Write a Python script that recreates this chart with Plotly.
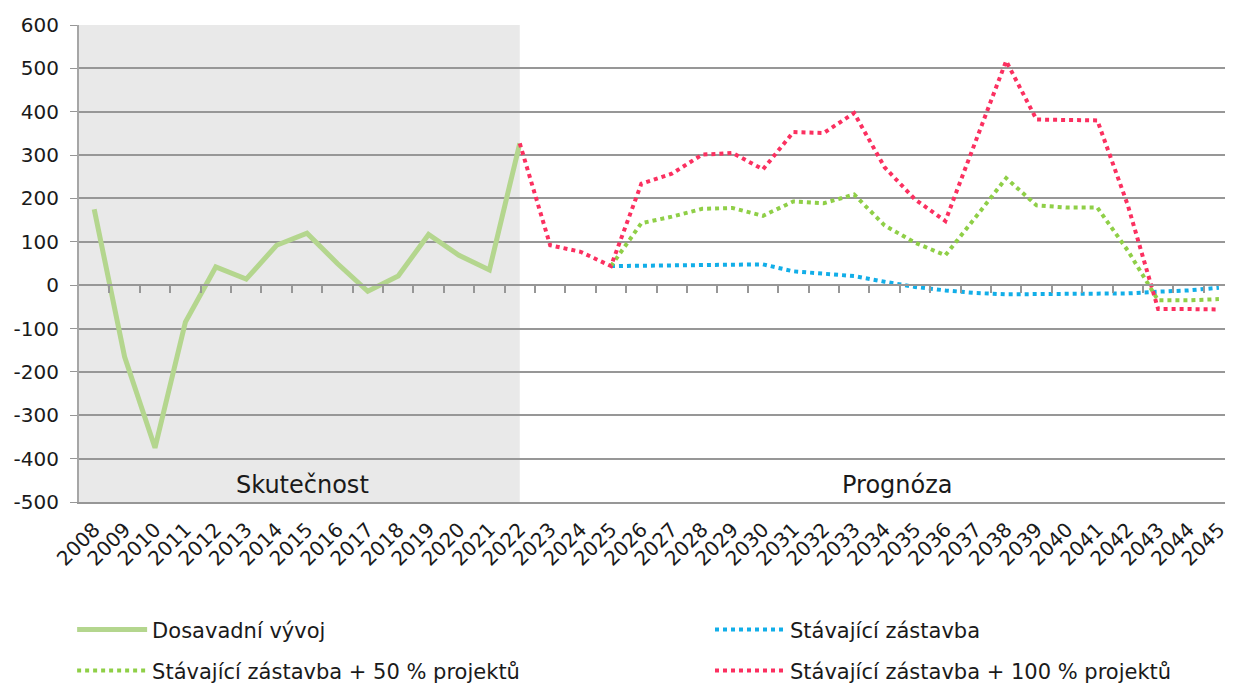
import plotly.graph_objects as go

years = list(range(2008, 2046))

# Dosavadni vyvoj 2008-2022
actual = [175, -165, -375, -85, 42, 14, 92, 120, 50, -14, 21, 117, 69, 35, 327]

# forecasts 2022-2045
fc_years = list(range(2022, 2046))
existing = [None, None, None, 44, 45, 47, 47, 47, 48, 32, 27, 21, 8, -4, -12, -18,
            -21, -21, -21, -21, -19, -15, -12, -6]
plus50 = [None, None, None, 44, 143, 158, 176, 178, 160, 193, 189, 209, 138, 98, 69, 157,
          247, 184, 179, 179, 80, -35, -35, -32]
plus100 = [327, 92, 77, 44, 234, 257, 301, 305, 267, 353, 351, 397, 272, 198, 148, 335,
           517, 382, 380, 380, 185, -55, -55, -56]

y_ticks = list(range(-500, 601, 100))
y_labels = [str(v) for v in y_ticks]  # plain hyphen, like the source

FONT = "DejaVu Sans"
grid = "#979797"

fig = go.Figure()
fig.add_trace(go.Scatter(x=years[:len(actual)], y=actual, mode="lines", name="Dosavadní vývoj",
                         line=dict(color="#b4d68e", width=5), legend="legend"))
fig.add_trace(go.Scatter(x=fc_years, y=existing, mode="lines", name="Stávající zástavba",
                         line=dict(color="#12aee8", width=4, dash="dot"), legend="legend2"))
fig.add_trace(go.Scatter(x=fc_years, y=plus50, mode="lines", name="Stávající zástavba + 50 % projektů",
                         line=dict(color="#8fcf47", width=4, dash="dot"), legend="legend3"))
fig.add_trace(go.Scatter(x=fc_years, y=plus100, mode="lines", name="Stávající zástavba + 100 % projektů",
                         line=dict(color="#fb3060", width=4, dash="dot"), legend="legend4"))

# shaded "actual" period
fig.add_shape(type="rect", xref="x", yref="paper", x0=2007.5, x1=2022, y0=0, y1=1,
              fillcolor="#e9e9e9", line_width=0, layer="below")

fig.add_annotation(x=2014.84, y=-460, text="Skutečnost", showarrow=False,
                   font=dict(size=24, color="#1a1a1a"))
fig.add_annotation(x=2034.44, y=-460, text="Prognóza", showarrow=False,
                   font=dict(size=24, color="#1a1a1a"))

legend_common = dict(xanchor="left", yanchor="middle",
                     bgcolor="rgba(0,0,0,0)", font=dict(family=FONT, size=21, color="#1a1a1a"),
                     itemwidth=70)

# page body has an 8px margin all round; keep the page inside the window
fig.update_layout(
    width=1217, height=677,
    margin=dict(l=71, r=0, t=17, b=183, autoexpand=False),
    plot_bgcolor="white", paper_bgcolor="white",
    font=dict(family=FONT, size=20, color="#1a1a1a"),
    showlegend=True,
    legend=dict(x=-0.006, y=-0.268, **legend_common),
    legend2=dict(x=0.5506, y=-0.268, **legend_common),
    legend3=dict(x=-0.006, y=-0.354, **legend_common),
    legend4=dict(x=0.5506, y=-0.354, **legend_common),
    xaxis=dict(range=[2007.5, 2045.2], tickmode="array", tickvals=years,
               ticktext=[str(y) for y in years], tickangle=-45, showgrid=False,
               showline=True, linecolor=grid, linewidth=2, ticks="", zeroline=False,
               tickfont=dict(size=20), automargin=False, ticklabeloverflow="allow",
               ticklabelstandoff=6),
    xaxis2=dict(range=[2007.5, 2045.2], overlaying="x", anchor="free", position=500 / 1100,
                tickmode="array", tickvals=[y + 0.5 for y in years], ticks="outside",
                ticklen=7, tickwidth=1.5, tickcolor=grid, showticklabels=False,
                showline=True, linecolor=grid, linewidth=2, showgrid=False, zeroline=False,
                automargin=False),
    yaxis=dict(range=[-500, 600], tickmode="array", tickvals=y_ticks, ticktext=y_labels,
               showgrid=True, gridcolor=grid, gridwidth=2,
               showline=True, linecolor="#a6a6a6", linewidth=2, ticks="outside", ticklen=7,
               tickcolor=grid, zeroline=False, ticklabelstandoff=7, tickfont=dict(size=20),
               automargin=False),
)
# invisible point so xaxis2 is drawn
fig.add_trace(go.Scatter(x=[2007.5], y=[0], xaxis="x2", mode="markers", opacity=0,
                         showlegend=False, hoverinfo="skip"))

fig.write_html("out.html")
